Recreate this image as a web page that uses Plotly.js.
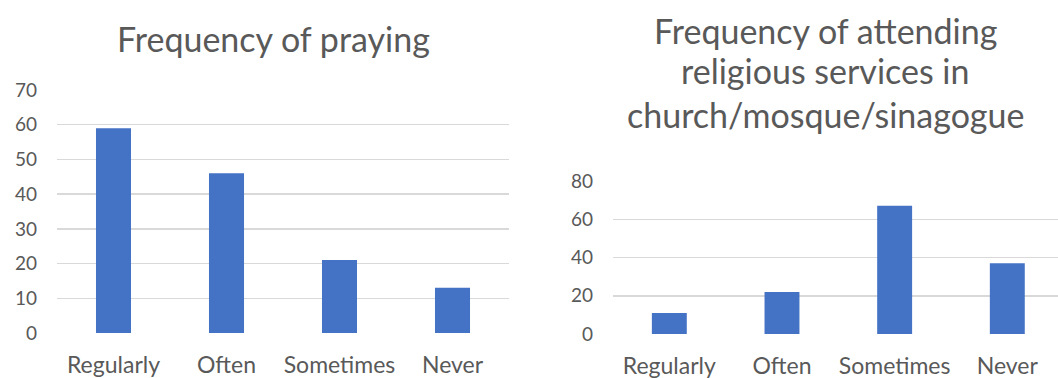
<!DOCTYPE html>
<html>
<head>
<meta charset="utf-8">
<script src="https://cdn.plot.ly/plotly-3.0.1.min.js"></script>
<style>html,body{margin:0;padding:0;background:#fff;}#chart{width:1058px;height:378px;}</style>
</head>
<body>
<div id="chart"></div>
<script>
const categories = ["Regularly", "Often", "Sometimes", "Never"];
const prayingValues = [59, 46, 21, 13];
const attendingValues = [11, 22, 67, 37];
const leftTitle = "Frequency of praying";
const rightTitleLines = ["Frequency of attending", "religious services in", "church/mosque/sinagogue"];
const leftTicks = [0, 10, 20, 30, 40, 50, 60, 70];
const rightTicks = [0, 20, 40, 60, 80];

const W = 1058, H = 378;
const FONT = "Lato, 'Open Sans', sans-serif";
const TXT = "#595959";
const BAR = "#4472C4";
const GRID = "#D9D9D9";

const traces = [
  {type: "bar", x: categories, y: prayingValues, xaxis: "x", yaxis: "y",
   marker: {color: BAR}, width: 0.31, hoverinfo: "x+y"},
  {type: "bar", x: categories, y: attendingValues, xaxis: "x2", yaxis: "y2",
   marker: {color: BAR}, width: 0.31, hoverinfo: "x+y"}
];

function px(x) { return x / W; }
function py(y) { return (H - y) / H; }

const yCommon = {
  showgrid: true, gridcolor: GRID, gridwidth: 1.5, zeroline: false, showline: false,
  tickfont: {family: FONT, size: 19, color: TXT}, ticks: "", ticklabelstandoff: 19, fixedrange: true
};
const xCommon = {
  showgrid: false, zeroline: false, showline: false, ticks: "",
  tickfont: {family: FONT, size: 23, color: TXT}, ticklabelstandoff: 16, fixedrange: true
};

const annotations = [
  {text: leftTitle, xref: "paper", yref: "paper", x: px(273), y: py(38), xanchor: "center", yanchor: "middle",
   showarrow: false, font: {family: FONT, size: 34, color: TXT}}
];
const lineY = [31, 71, 115];
rightTitleLines.forEach((t, i) => {
  annotations.push({text: t, xref: "paper", yref: "paper", x: px(825), y: py(lineY[i]), xanchor: "center", yanchor: "middle",
    showarrow: false, font: {family: FONT, size: 34, color: TXT}});
});

const layout = {
  width: W, height: H,
  margin: {l: 0, r: 0, t: 0, b: 0},
  paper_bgcolor: "#fff", plot_bgcolor: "rgba(0,0,0,0)",
  showlegend: false,
  xaxis: Object.assign({}, xCommon, {domain: [px(57), px(509)], range: [-0.5, 3.5], anchor: "y"}),
  yaxis: Object.assign({}, yCommon, {domain: [py(333), py(90)], range: [0, 70], tickvals: leftTicks, anchor: "x"}),
  xaxis2: Object.assign({}, xCommon, {domain: [px(613), 1], range: [-0.5, 3.45], anchor: "y2"}),
  yaxis2: Object.assign({}, yCommon, {domain: [py(334), py(181)], range: [0, 80], tickvals: rightTicks, anchor: "x2"}),
  annotations: annotations
};

Plotly.newPlot("chart", traces, layout, {displayModeBar: false, staticPlot: true});
</script>
</body>
</html>
